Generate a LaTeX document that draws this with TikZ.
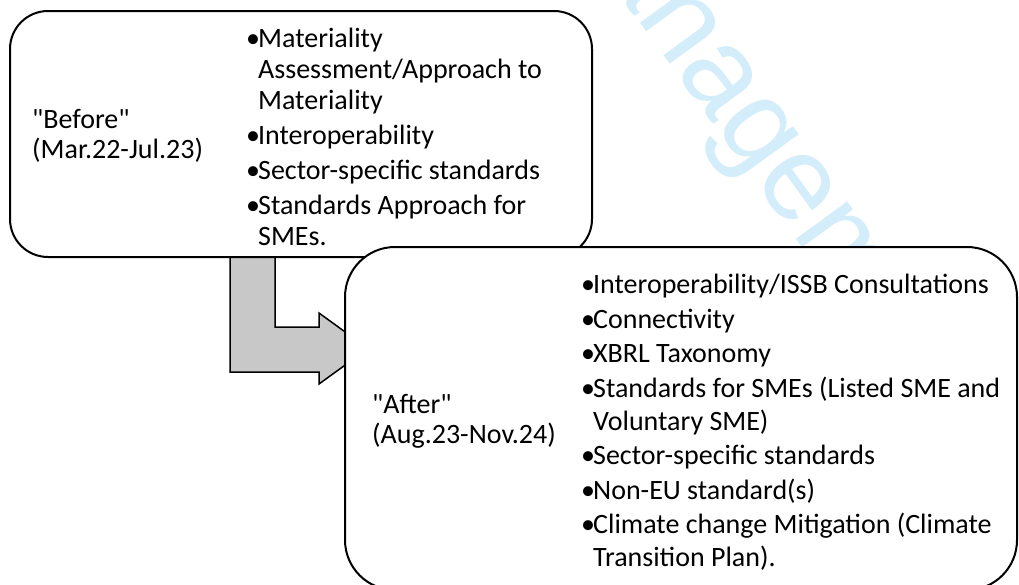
\documentclass[tikz,border=0pt]{standalone}
\usepackage{fontspec}
\setmainfont{Carlito}
\newfontfamily\wmfont{Liberation Sans}
\definecolor{wmblue}{RGB}{212,237,250}
\definecolor{arrowgray}{RGB}{200,200,200}

% bullet mark and the matching indent for wrapped lines
\newcommand\bul{\textbullet\kern-2pt}
\newcommand\wrapind{\phantom{\textbullet}\kern-2pt}
\newcommand\qq{\textquotedbl}

\tikzset{
  box/.style={draw=black, line width=2pt, fill=white, rounded corners=#1},
  blockarrow/.style={draw=black, line width=1.5pt, fill=arrowgray, line join=miter},
  label/.style={anchor=base west, inner sep=0pt, align=left,
    font=\fontsize{28}{30}\selectfont},
  itemlist/.style={anchor=base west, inner sep=0pt, align=left,
    font=\fontsize{28}{#1}\selectfont},
  wm/.style={anchor=base west, inner sep=0pt, text=wmblue,
    font=\wmfont\fontsize{120}{120}\selectfont}
}

\begin{document}
\begin{tikzpicture}[x=1pt,y=-1pt]
\useasboundingbox (0,0) rectangle (1019,584);
\fill[white] (0,0) rectangle (1019,584);

% faint diagonal watermark behind everything
\begin{scope}
\clip (0,0) rectangle (1019,584);
\node[wm, rotate=-54] (mark) at (537,-118.5) {Management};
\end{scope}

% bent block arrow from the first box to the second
\coordinate (shaftL) at (230,255);
\coordinate (shaftR) at (275,255);
\coordinate (tip) at (368,348.5);
\draw[blockarrow] (shaftL) -- (230,372) -- (319,372) -- (319,384) -- (tip)
  -- (319,313) -- (319,327) -- (275,327) -- (shaftR) -- cycle;

% "Before" box (node anchors below refer to the last text line)
\node[box=38pt, minimum width=582pt, minimum height=246pt] (before) at (301,134) {};
\node[label] (beforelbl) at (32,158) {\qq Before\qq\\(Mar.22-Jul.23)};
\node[itemlist=31] (beforelist) at (246,245.5) {%
  \bul Materiality\\
  \wrapind Assessment/Approach to\\
  \wrapind Materiality\\[4pt]
  \bul Interoperability\\[4pt]
  \bul Sector-specific standards\\[4pt]
  \bul Standards Approach for\\
  \wrapind SMEs.};

% "After" box
\node[box=50pt, minimum width=672pt, minimum height=343pt] (after) at (681,418.5) {};
\node[label] (afterlbl) at (372,443) {\qq After\qq\\(Aug.23-Nov.24)};
\node[itemlist=33] (afterlist) at (581,566.5) {%
  \bul Interoperability/ISSB Consultations\\[1.5pt]
  \bul Connectivity\\[1.5pt]
  \bul XBRL Taxonomy\\[1.5pt]
  \bul Standards for SMEs (Listed SME and\\
  \wrapind Voluntary SME)\\[1.5pt]
  \bul Sector-specific standards\\[1.5pt]
  \bul Non-EU standard(s)\\[1.5pt]
  \bul Climate change Mitigation (Climate\\
  \wrapind Transition Plan).};
\end{tikzpicture}
\end{document}
